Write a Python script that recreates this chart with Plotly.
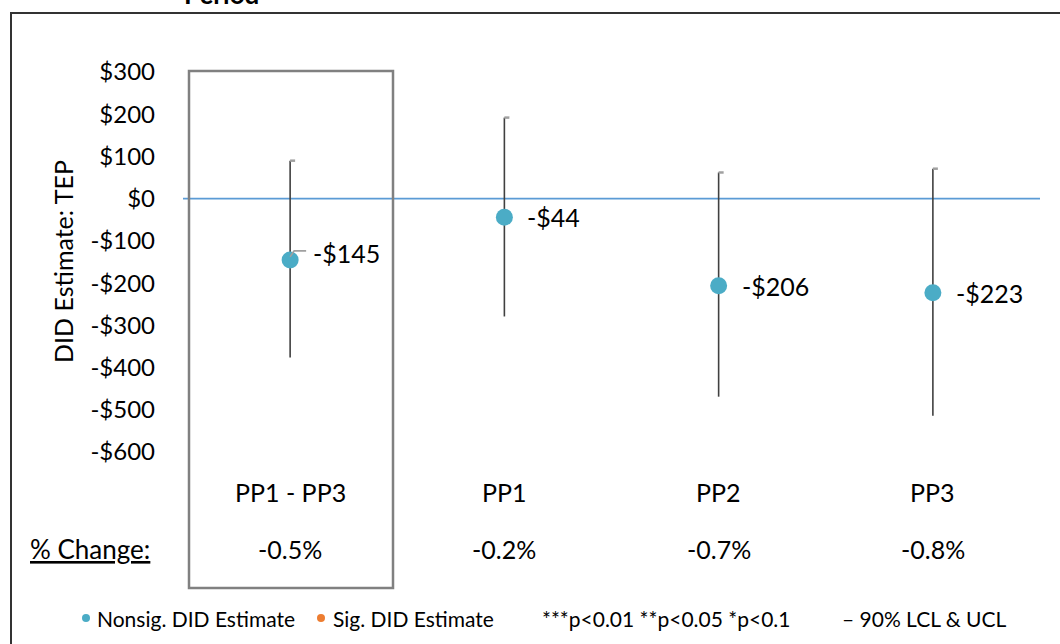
import plotly.graph_objects as go

categories = ["PP1 - PP3", "PP1", "PP2", "PP3"]
estimates = [-145, -44, -206, -223]
upper_ci = [90, 192, 62, 71]
lower_ci = [-376, -279, -469, -514]
pct_change = ["-0.5%", "-0.2%", "-0.7%", "-0.8%"]
value_labels = ["-$145", "-$44", "-$206", "-$223"]
y_ticks = [300, 200, 100, 0, -100, -200, -300, -400, -500, -600]
y_tick_labels = ["$300", "$200", "$100", "$0", "-$100", "-$200", "-$300", "-$400", "-$500", "-$600"]
legend_items = ["Nonsig. DID Estimate", "Sig. DID Estimate",
                "***p<0.01 **p<0.05 *p<0.1", "– 90% LCL & UCL"]

W, H = 1060, 644
L, R, T, B = 183, 1040, 72, 452
PW, PH = R - L, B - T

def px(x):
    return (x - L) / PW

def py(y):
    return (B - y) / PH

FONT = "Lato, Carlito, 'Open Sans', sans-serif"
TXT = "#000000"
BLUE = "#4bacc6"
ORANGE = "#ed7d31"

xs = list(range(len(categories)))

fig = go.Figure()
fig.add_trace(go.Scatter(
    x=xs, y=estimates, mode="markers",
    marker=dict(color=BLUE, size=17),
    error_y=dict(type="data", symmetric=False,
                 array=[u - e for u, e in zip(upper_ci, estimates)],
                 arrayminus=[e - l for e, l in zip(estimates, lower_ci)],
                 color="#404040", thickness=1.6, width=0),
    showlegend=False, hoverinfo="skip",
))

shapes = []
# outer frame: only left and top edges are inside the picture
shapes.append(dict(type="line", xref="paper", yref="paper",
                   x0=px(11), x1=px(1060), y0=py(13), y1=py(13),
                   line=dict(color="#333333", width=2), layer="above"))
shapes.append(dict(type="line", xref="paper", yref="paper",
                   x0=px(11), x1=px(11), y0=py(12), y1=py(644),
                   line=dict(color="#333333", width=2), layer="above"))
# zero line
shapes.append(dict(type="line", xref="paper", yref="y", x0=0, x1=1, y0=0, y1=0,
                   line=dict(color="#5b9bd5", width=1.6), layer="below"))
# highlight box
shapes.append(dict(type="rect", xref="paper", yref="paper",
                   x0=px(189), x1=px(393), y0=py(71), y1=py(588),
                   line=dict(color="#808080", width=2.5), fillcolor="rgba(0,0,0,0)"))
# caps at upper end (Excel style)
for i, u in enumerate(upper_ci):
    shapes.append(dict(type="line", xref="x", yref="y", xsizemode="pixel", xanchor=i,
                       x0=0, x1=5, y0=u, y1=u, line=dict(color="#a0a0a0", width=2.5)))
# leader line for first label
shapes.append(dict(type="path", xref="x", yref="y", xsizemode="pixel", ysizemode="pixel",
                   xanchor=0, yanchor=estimates[0],
                   path="M 0 3 L 4 9 L 16 9", line=dict(color="#a0a0a0", width=1.6)))

ann = []
for i, t in enumerate(value_labels):
    ann.append(dict(x=i, y=estimates[i], xref="x", yref="y", text=t, showarrow=False,
                    xanchor="left", yanchor="middle", xshift=21, yshift=7 if i == 0 else 0,
                    font=dict(family=FONT, size=25, color=TXT)))
for i, c in enumerate(categories):
    ann.append(dict(x=i, y=py(492), xref="x", yref="paper", text=c, showarrow=False,
                    xanchor="center", yanchor="middle", font=dict(family=FONT, size=25, color=TXT)))
    ann.append(dict(x=i, y=py(549), xref="x", yref="paper", text=pct_change[i], showarrow=False,
                    xanchor="center", yanchor="middle", font=dict(family=FONT, size=25, color=TXT)))
ann.append(dict(x=px(90), y=py(549), xref="paper", yref="paper", text="<u>% Change:</u>",
                showarrow=False, xanchor="center", yanchor="middle",
                font=dict(family=FONT, size=26, color=TXT)))
ann.append(dict(x=px(63), y=py(262), xref="paper", yref="paper", text="DID Estimate: TEP",
                showarrow=False, textangle=-90, xanchor="center", yanchor="middle",
                font=dict(family=FONT, size=25, color=TXT)))
ann.append(dict(x=px(221), y=py(12), xref="paper", yref="paper", text="<b>Period</b>",
                showarrow=False, xanchor="center", yanchor="bottom",
                font=dict(family=FONT, size=26, color=TXT)))

# legend row
LEG_Y = py(618)
LFONT = dict(family=FONT, size=21, color=TXT)
for cx, col in [(86, BLUE), (321, ORANGE)]:
    shapes.append(dict(type="circle", xref="paper", yref="paper",
                       x0=px(cx - 4), x1=px(cx + 4), y0=py(618 + 4), y1=py(618 - 4),
                       fillcolor=col, line=dict(width=0)))
for x0, t in zip([95, 331, 540, 840], legend_items):
    ann.append(dict(x=px(x0), y=LEG_Y, xref="paper", yref="paper", text=t, showarrow=False,
                    xanchor="left", yanchor="middle", font=LFONT))

fig.update_layout(
    width=W, height=H,
    margin=dict(l=L, r=W - R, t=T, b=H - B, pad=0),
    paper_bgcolor="white", plot_bgcolor="white",
    xaxis=dict(range=[-0.5, len(categories) - 0.5], showticklabels=False, showgrid=False,
               zeroline=False, showline=False, fixedrange=True),
    yaxis=dict(range=[-600, 300], tickvals=y_ticks, ticktext=y_tick_labels, showgrid=False,
               zeroline=False, showline=False, ticks="", ticklabelstandoff=27,
               tickfont=dict(family=FONT, size=24, color=TXT), fixedrange=True),
    shapes=shapes, annotations=ann, showlegend=False,
)

fig.write_html("out.html", config={"displayModeBar": False},
               post_script="document.body.style.margin='0';document.body.style.overflow='hidden';")
